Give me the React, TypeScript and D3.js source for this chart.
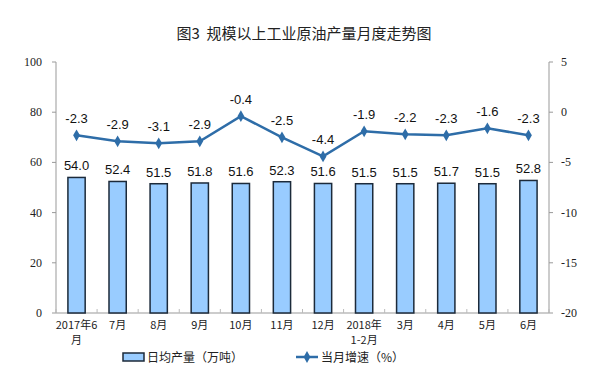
import React from "react";
import * as d3 from "d3";

const categories = ["2017年6\n月", "7月", "8月", "9月", "10月", "11月", "12月", "2018年\n1-2月", "3月", "4月", "5月", "6月"];
const dailyOutput = [54.0, 52.4, 51.5, 51.8, 51.6, 52.3, 51.6, 51.5, 51.5, 51.7, 51.5, 52.8];
const growth = [-2.3, -2.9, -3.1, -2.9, -0.4, -2.5, -4.4, -1.9, -2.2, -2.3, -1.6, -2.3];
const leftTicks = [0, 20, 40, 60, 80, 100];
const rightTicks = [5, 0, -5, -10, -15, -20];
const title = "图3  规模以上工业原油产量月度走势图";
const legendBar = "日均产量（万吨）";
const legendLine = "当月增速（%）";

const W = 608, H = 385;
const L = 56, R = 549, T = 62, B = 313;

export default function App() {
  const x = d3.scaleBand<string>().domain(categories).range([L, R]).paddingInner(0.58).paddingOuter(0.29);
  const yL = d3.scaleLinear().domain([0, 100]).range([B, T]);
  const yR = d3.scaleLinear().domain([-20, 5]).range([B, T]);
  const cx = (i: number) => (x(categories[i]) as number) + x.bandwidth() / 2;
  const step = (R - L) / categories.length;
  const line = d3.line<number>().x((_, i) => cx(i)).y((d) => yR(d));
  const diamond = d3.symbol().type(d3.symbolDiamond).size(40)();
  const cjk = "'Noto Sans CJK SC', sans-serif";
  const serif = "'Liberation Serif', 'Times New Roman', serif";
  const num = "'Liberation Sans', Arial, sans-serif";
  return (
    <svg width={W} height={H} style={{ position: "absolute", left: 0, top: 0, background: "#fff" }}>
      <text x={304} y={39} textAnchor="middle" fontFamily={cjk} fontSize={15} fontWeight={400} fill="#222" style={{ whiteSpace: "pre" }}>{title}</text>
      {/* axes */}
      <line x1={L} x2={L} y1={T} y2={B} stroke="#999" />
      <line x1={R} x2={R} y1={T} y2={B} stroke="#999" />
      <line x1={L} x2={R} y1={B} y2={B} stroke="#999" />
      {leftTicks.map((t) => (
        <g key={"l" + t}>
          <line x1={L - 4} x2={L} y1={yL(t)} y2={yL(t)} stroke="#999" />
          <text x={L - 14} y={yL(t) + 4} textAnchor="end" fontFamily={serif} fontSize={12} fill="#222">{t}</text>
        </g>
      ))}
      {rightTicks.map((t) => (
        <g key={"r" + t}>
          <line x1={R} x2={R + 4} y1={yR(t)} y2={yR(t)} stroke="#999" />
          <text x={R + 12} y={yR(t) + 4} textAnchor="start" fontFamily={serif} fontSize={12} fill="#222">{t}</text>
        </g>
      ))}
      {d3.range(categories.length + 1).map((i) => (
        <line key={"xt" + i} x1={L + i * step} x2={L + i * step} y1={B} y2={B - 4} stroke="#bbb" />
      ))}
      {/* bars */}
      {dailyOutput.map((v, i) => (
        <g key={"b" + i}>
          <rect x={x(categories[i])} y={yL(v)} width={x.bandwidth()} height={B - yL(v)} fill="#99CCFF" stroke="#1c2a3a" strokeWidth={1.5} />
          <text x={cx(i)} y={yL(v) - 7} textAnchor="middle" fontFamily={num} fontSize={13} fill="#111">{v.toFixed(1)}</text>
        </g>
      ))}
      {/* line */}
      <path d={line(growth) || ""} fill="none" stroke="#2E6DA8" strokeWidth={2.5} />
      {growth.map((v, i) => (
        <g key={"p" + i}>
          <path d={diamond || ""} transform={`translate(${cx(i)},${yR(v)})`} fill="#2E6DA8" />
          <text x={cx(i)} y={yR(v) - 12} textAnchor="middle" fontFamily={num} fontSize={13} fill="#111">{v.toFixed(1)}</text>
        </g>
      ))}
      {/* x labels */}
      {categories.map((c, i) => (
        <text key={"x" + i} x={cx(i)} y={B + 16} textAnchor="middle" fontFamily={cjk} fontSize={11} fill="#222">
          {c.split("\n").map((s, j) => (
            <tspan key={j} x={cx(i)} dy={j === 0 ? 0 : 15}>{s}</tspan>
          ))}
        </text>
      ))}
      {/* legend */}
      <rect x={123} y={353} width={21} height={8} fill="#99CCFF" stroke="#1c2a3a" strokeWidth={1.5} />
      <text x={147} y={362} fontFamily={cjk} fontSize={12} fill="#222">{legendBar}</text>
      <line x1={296} x2={318} y1={357} y2={357} stroke="#2E6DA8" strokeWidth={2.5} />
      <path d={diamond || ""} transform="translate(307,357)" fill="#2E6DA8" />
      <text x={321} y={362} fontFamily={cjk} fontSize={12} fill="#222">{legendLine}</text>
    </svg>
  );
}
